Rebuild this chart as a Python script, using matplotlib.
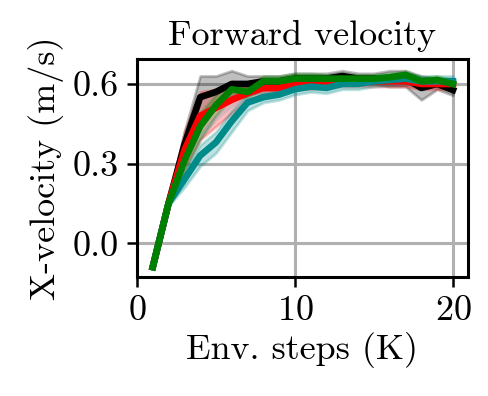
import numpy as np
import matplotlib
matplotlib.use("Agg")
import matplotlib.pyplot as plt

plt.rcParams["font.family"] = "serif"
plt.rcParams["font.serif"] = ["cmr10"]
plt.rcParams["mathtext.fontset"] = "cm"
plt.rcParams["axes.unicode_minus"] = False
plt.rcParams["axes.formatter.use_mathtext"] = True

steps = np.arange(1, 21)

black_mean = [-0.09, 0.15, 0.37, 0.55, 0.57, 0.60, 0.60, 0.61, 0.61, 0.62,
              0.62, 0.62, 0.63, 0.62, 0.62, 0.62, 0.62, 0.585, 0.60, 0.577]
black_std = [0.0, 0.01, 0.05, 0.08, 0.06, 0.05, 0.03, 0.02, 0.02, 0.02,
             0.02, 0.02, 0.02, 0.02, 0.02, 0.03, 0.03, 0.045, 0.02, 0.02]
red_mean = [-0.09, 0.15, 0.35, 0.48, 0.51, 0.54, 0.565, 0.584, 0.584, 0.60,
            0.60, 0.61, 0.61, 0.61, 0.61, 0.61, 0.61, 0.60, 0.60, 0.60]
red_std = [0.0, 0.01, 0.07, 0.09, 0.07, 0.05, 0.03, 0.02, 0.02, 0.02,
           0.02, 0.02, 0.02, 0.02, 0.02, 0.02, 0.02, 0.02, 0.02, 0.02]
green_mean = [-0.09, 0.15, 0.31, 0.44, 0.52, 0.58, 0.57, 0.61, 0.61, 0.62,
              0.62, 0.62, 0.62, 0.62, 0.62, 0.625, 0.634, 0.61, 0.615, 0.60]
green_std = [0.0, 0.01, 0.04, 0.05, 0.04, 0.03, 0.02, 0.02, 0.02, 0.02,
             0.02, 0.015, 0.015, 0.015, 0.015, 0.015, 0.015, 0.015, 0.015, 0.015]
teal_mean = [-0.09, 0.15, 0.24, 0.33, 0.38, 0.46, 0.53, 0.55, 0.56, 0.58,
             0.59, 0.585, 0.60, 0.60, 0.61, 0.615, 0.62, 0.61, 0.61, 0.61]
teal_std = [0.0, 0.01, 0.03, 0.04, 0.04, 0.04, 0.03, 0.02, 0.02, 0.02,
            0.02, 0.02, 0.02, 0.02, 0.02, 0.02, 0.02, 0.02, 0.02, 0.02]

# faint extra runs
brown_mean = [-0.09, 0.15, 0.33, 0.47, 0.53, 0.56, 0.58, 0.60, 0.60, 0.61,
              0.61, 0.61, 0.61, 0.61, 0.61, 0.61, 0.61, 0.60, 0.60, 0.60]
blue_mean = [-0.09, 0.15, 0.28, 0.40, 0.47, 0.52, 0.56, 0.58, 0.59, 0.60,
             0.60, 0.60, 0.60, 0.61, 0.61, 0.61, 0.61, 0.60, 0.60, 0.60]

series = [
    (brown_mean, None, "#8c564b", 0.25),
    (blue_mean, None, "#4a7fb0", 0.2),
    (black_mean, black_std, "black", 1.0),
    (red_mean, red_std, "red", 1.0),
    (teal_mean, teal_std, "#008b8b", 1.0),
    (green_mean, green_std, "green", 1.0),
]

fig = plt.figure(figsize=(2.445, 1.98), dpi=200)
ax = fig.add_axes([0.280, 0.300, 0.677, 0.551])

for mean, std, c, a in series:
    m = np.array(mean)
    if std is None:
        ax.plot(steps, m, color=c, lw=1.8, alpha=a)
        continue
    s = np.array(std)
    ax.fill_between(steps, m - s, m + s, color=c, alpha=0.25, lw=1.0)
    ax.plot(steps, m, color=c, lw=2.4, alpha=a)

ax.set_xticks([0, 10, 20])
ax.set_yticks([0.0, 0.3, 0.6])
ax.set_yticklabels(["0.0", "0.3", "0.6"])
ax.set_ylim(-0.128, 0.694)
ax.grid(True, color="#b0b0b0", lw=1.1)
ax.set_axisbelow(True)
for sp in ax.spines.values():
    sp.set_linewidth(1.1)
fs = 13
ax.tick_params(labelsize=fs, width=0.9, length=3.5, pad=3)
ax.set_xlabel("Env. steps (K)", fontsize=fs, labelpad=2)
ax.set_ylabel("X-velocity (m/s)", fontsize=fs, labelpad=3)
ax.set_title("Forward velocity", fontsize=fs, pad=5)

fig.savefig("out.png", dpi=200)
